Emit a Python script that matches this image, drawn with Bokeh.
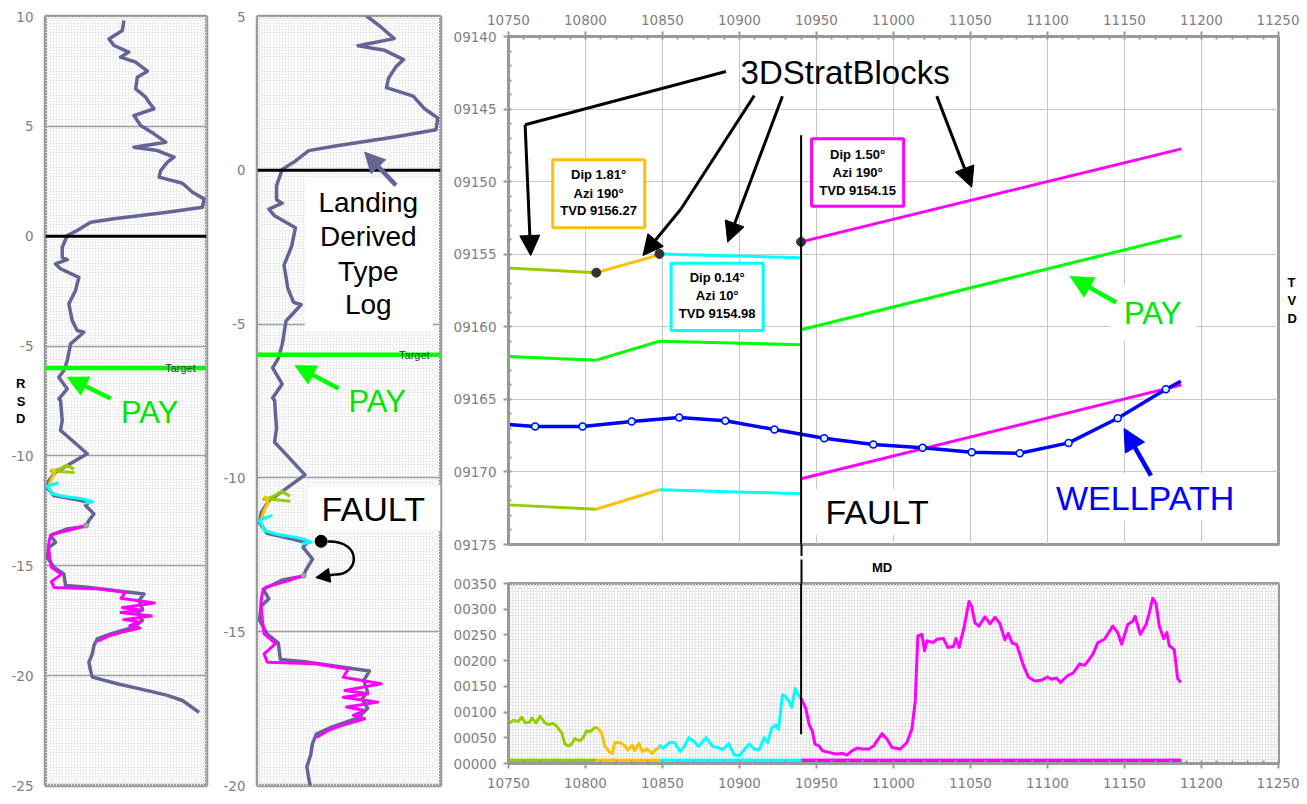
from bokeh.plotting import figure
from bokeh.models import (Range1d, SingleIntervalTicker, FixedTicker, PrintfTickFormatter, Label,
                          Arrow, NormalHead, BoxAnnotation, Span, LinearAxis)
from bokeh.layouts import row, column
from bokeh.embed import file_html
from bokeh.resources import INLINE

# ---------------- DATA ----------------
# Landing derived type log: relative stratigraphic depth (RSD) vs log value
type_rsd = [9.82, 9.36, 8.98, 8.68, 8.38, 8.15, 7.92, 7.51, 7.24, 6.71,
            6.33, 6.10, 5.80, 5.49, 5.04, 4.66, 4.28, 4.05, 3.90, 3.60,
            3.37, 2.99, 2.69, 2.41, 2.00, 1.70, 1.32, 1.09, 0.79, 0.64,
            0.26, 0.03, -0.50, -0.96, -1.07, -1.26, -1.48, -1.87, -2.47, -3.08,
            -3.84, -4.29, -4.37, -4.90, -5.66, -6.11, -6.42, -6.95, -7.40, -7.48,
            -8.39, -8.84, -9.30, -9.90, -10.44, -10.74, -11.12, -11.45, -11.80, -12.00,
            -12.11, -12.26, -12.64, -12.94, -13.20, -13.32, -13.62, -13.93, -14.16, -14.61,
            -15.07, -15.37, -15.90, -15.98, -16.28, -16.58, -16.96, -17.19, -17.49, -17.80,
            -18.10, -18.33, -18.63, -19.01, -19.39, -19.77, -20.07, -20.37, -20.68, -20.90,
            -21.13, -21.67]
type_val = [170.6, 167, 138, 149, 181, 163, 196, 221.5, 199.7, 196,
            217.8, 225, 235.9, 192.3, 206.9, 235.9, 261.4, 192.3, 243.3, 279.4,
            265, 250.5, 246.8, 297.7, 319.5, 344.8, 341.3, 265, 148.8, 98,
            69, 47.3, 36.4, 36.4, 47.3, 21.8, 32.7, 72.5, 65.3, 50.7,
            58.1, 69, 83.4, 54.5, 47.3, 39.9, 29, 47.3, 29, 32.7,
            36.4, 32.7, 58.1, 90.8, 47.3, 21.8, 7.3, 3.6, 18.2, 69,
            94.4, 87.1, 105.3, 94.4, 87.1, 47.3, 10.9, 21.8, 7.3, 3.6,
            18.2, 39.9, 43.6, 90.8, 214.1, 203.2, 210.6, 199.7, 210.6, 192.3,
            141.6, 112.6, 105.3, 101.7, 94.4, 98, 101.7, 156.2, 221.5, 265,
            297.7, 333.9]

# Well log projected onto RSD, one piece per strat block
lg_yg_rsd = [-10.76, -10.72, -10.68, -10.70, -10.62, -10.50, -10.43, -10.52, -10.60]
lg_yg_val = [63, 40, 20, 12, 28, 40, 46, 55, 62]
lg_or_rsd = [-10.60, -10.70, -10.84, -11.06, -11.28, -11.33]
lg_or_val = [12, 20, 18.9, 12.6, 8.2, 18.9]
lg_cy_rsd = [-11.22, -11.30, -11.38, -11.55, -11.71, -11.85, -11.93, -12.00, -12.09, -12.14]
lg_cy_val = [28.4, 15, 3.2, 9.5, 12.6, 41, 72.5, 90, 102.8, 85.1]
lg_mg_rsd = [-13.17, -13.34, -13.55, -13.72, -14.09, -14.64, -15.07, -15.39, -15.72, -15.99,
             -16.04, -16.21, -16.48, -16.69, -16.91, -17.02, -17.13, -17.29, -17.45, -17.56,
             -17.72, -17.83, -18.05, -18.21, -18.43]
lg_mg_val = [88.3, 59.9, 15.8, 9.5, 6.3, 9.5, 12.6, 34.7, 12.6, 18.9,
             110.4, 173.5, 164, 236.5, 167.1, 211.3, 164, 230.3, 170.3, 204.9,
             183, 204.9, 160.8, 135.6, 113.5]
target_rsd = -6.0
zero_rsd = 0.0

# Strat blocks (MD start/end, horizon TVDs at start/end)
blk_md_start = [10750, 10807, 10848, 10940]
blk_md_end = [10807, 10848, 10940, 11187]
top_start = [9155.95, 9156.27, 9154.98, 9154.15]
top_end = [9156.27, 9155.04, 9155.25, 9147.74]
pay_start = [9162.05, 9162.30, 9161.00, 9160.20]
pay_end = [9162.30, 9161.00, 9161.24, 9153.73]
base_start = [9172.27, 9172.57, 9171.23, 9170.47]
base_end = [9172.57, 9171.23, 9171.50, 9164.00]
blk_dip = ["1.81", "0.14", "1.50"]
blk_azi = ["190", "10", "190"]
blk_tvd = ["9156.27", "9154.98", "9154.15"]
fault_md = 10940

# Wellpath
wp_md = [10750, 10767.3, 10798.1, 10830.0, 10860.8, 10890.8, 10922.7, 10955.0, 10986.9,
         11018.9, 11050.8, 11082.0, 11113.7, 11145.6, 11176.9, 11186.6]
wp_tvd = [9166.73, 9166.87, 9166.87, 9166.53, 9166.25, 9166.48, 9167.08, 9167.68, 9168.11,
          9168.34, 9168.64, 9168.71, 9168.00, 9166.30, 9164.30, 9163.75]

# Well log vs MD, per block
gr_yg_md = [10750.6, 10753.2, 10756.5, 10758.6, 10760.8, 10764.0, 10765.1, 10767.9, 10770.5, 10773.7,
            10775.9, 10779.1, 10781.2, 10784.5, 10786.7, 10788.8, 10791.0, 10793.1, 10796.4, 10798.5,
            10800.7, 10802.8, 10806.1, 10807.6]
gr_yg = [79, 83.5, 82.2, 89.9, 79, 80.9, 88.5, 79, 91.8, 79,
         75.9, 77.8, 72.7, 59.9, 37.7, 34.4, 37.7, 48.4, 44, 50.3,
         63.1, 61.8, 69.4, 69.4]
gr_or_md = [10807.6, 10810.4, 10812.5, 10815.8, 10817.5, 10819.0, 10822.2, 10825.5, 10827.6, 10830.4,
            10831.9, 10834.7, 10836.9, 10839.9, 10843.3, 10845.9, 10848.1]
gr_or = [69.4, 59.9, 34.4, 21.6, 19.7, 40.7, 40.7, 34.4, 26.2, 35.8,
         24.9, 38.8, 22.9, 28.1, 19.7, 28.1, 31.2]
gr_cy_md = [10847.7, 10850.3, 10854.6, 10857.8, 10861.5, 10864.3, 10867.1, 10870.1, 10873.4, 10878.3,
            10882.6, 10885.8, 10889.1, 10893.0, 10896.6, 10899.9, 10904.2, 10906.3, 10909.6, 10912.8,
            10916.0, 10918.2, 10921.0, 10923.6, 10925.3, 10927.9, 10930.0, 10932.2, 10933.9, 10936.1,
            10938.2, 10939.7]
gr_cy = [36.3, 29.3, 40.7, 40.7, 22.9, 34.4, 50.3, 44, 33.1, 50.3,
         33.1, 31.2, 26.8, 38.8, 16.6, 15.3, 31.2, 37.7, 28.1, 26.2,
         50.3, 40.7, 69.4, 74.6, 66.4, 133.3, 130, 120.5, 109, 145.9,
         133.3, 128.1]
gr_mg_md = [10939.7, 10943.0, 10945.2, 10947.3, 10949.0, 10951.6, 10953.8, 10958.1, 10962.4, 10966.7,
            10970.0, 10973.2, 10976.4, 10979.6, 10984.0, 10987.2, 10989.3, 10992.6, 10995.8, 10999.0,
            11004.4, 11008.7, 11011.9, 11014.1, 11015.8, 11018.4, 11020.2, 11021.7, 11026.0, 11028.1,
            11032.5, 11035.2, 11038.9, 11040.6, 11042.6, 11046.0, 11049.0, 11050.8, 11052.9, 11055.5,
            11059.4, 11062.7, 11065.9, 11069.1, 11072.3, 11074.5, 11077.1, 11079.9, 11082.0, 11084.2,
            11087.5, 11091.7, 11096.1, 11100.0, 11102.5, 11105.8, 11108.5, 11113.3, 11116.6, 11120.9,
            11124.1, 11127.3, 11129.5, 11132.7, 11137.0, 11142.4, 11145.6, 11148.2, 11152.1, 11155.4,
            11156.9, 11160.3, 11164.0, 11166.1, 11168.3, 11170.4, 11172.6, 11175.4, 11177.5, 11179.1,
            11182.3, 11184.5, 11186.6]
gr_mg = [128.1, 107.7, 75.9, 63.1, 37.7, 34.4, 24.9, 21.6, 18.5, 19.7,
         16.6, 24.9, 30, 28.1, 28.1, 34.4, 44, 58, 47.2, 31.2,
         28.1, 40.7, 66.4, 120.5, 248, 251.1, 219.3, 238.5, 235.2, 241.6,
         242.9, 225.7, 227.6, 242.9, 225.7, 267.2, 315, 305.4, 273.5, 267.2,
         285, 271.6, 284.4, 272.2, 240.3, 253, 233.9, 232, 212.8, 191.8,
         168.3, 160.6, 162, 168.3, 163.9, 166.4, 157.4, 171.5, 175.9, 193.7,
         190.7, 203.3, 212.8, 235.2, 241.6, 267.2, 254.4, 232, 270.3, 276.7,
         286.3, 251.1, 270.3, 292.6, 321.3, 311.7, 267.2, 242.9, 254.4, 228.9,
         221.3, 165.1, 157.4]

# positions of the stacked axis titles
rsd_title_pos = [-6.7, -7.5, -8.3]
tvd_title_pos = [9156.95, 9158.2, 9159.45]
md_title_pos = 10992.6

# ---------------- STYLE ----------------
AX_GRAY = "#999999"
LBL_GRAY = "#808080"
TICK_FONT = "DejaVu Sans"
TICK_SIZE = "13.5px"
TXT_FONT = "Liberation Sans"
SLATE = "#646496"
BLK_COLORS = ["#99cc00", "#ffc000", "#00ffff", "#ff00ff"]
GREEN = "#00ff00"
PAY_TXT = "#00e600"
BLUE = "#0000ff"
BAR_Y = 4


def mesh(p, color):
    p.add_layout(BoxAnnotation(fill_alpha=0, line_alpha=0, hatch_pattern="+", hatch_color=color,
                               hatch_scale=3, hatch_weight=1, level="image"))


def label(p, x, y, text, size, color="black", bold=False, align="center", font=TXT_FONT):
    p.add_layout(Label(x=x, y=y, text=text, text_font=font, text_font_size=f"{size}px",
                       text_color=color, text_align=align, text_baseline="middle",
                       text_font_style="bold" if bold else "normal"))


def arrow(p, x0, y0, x1, y1, color, width, head):
    p.add_layout(Arrow(x_start=x0, y_start=y0, x_end=x1, y_end=y1, line_color=color,
                       line_width=width,
                       end=NormalHead(size=head, fill_color=color, line_color=color, line_width=1)))


def white_box(p, l, r, t, b, line_color=None):
    p.add_layout(BoxAnnotation(left=l, right=r, top=t, bottom=b, fill_color="white", fill_alpha=1,
                               line_color=line_color if line_color else "white",
                               line_alpha=1 if line_color else 0, line_width=3))


def title_axis(ticks, names, standoff, minor=None, minor_out=0):
    ax = LinearAxis(ticker=FixedTicker(ticks=ticks, minor_ticks=minor or []),
                    major_label_overrides=dict(zip(ticks, names)))
    ax.axis_line_color = None
    ax.major_tick_line_color = None
    ax.major_tick_in = 0
    ax.major_tick_out = 0
    ax.minor_tick_line_color = "black" if minor else None
    ax.minor_tick_line_width = 2
    ax.minor_tick_in = 0
    ax.minor_tick_out = minor_out
    ax.major_label_standoff = standoff
    ax.major_label_text_font = TXT_FONT
    ax.major_label_text_font_style = "bold"
    ax.major_label_text_font_size = "13px"
    ax.major_label_text_color = "black"
    return ax


def style_axis(ax, interval, minor, fmt=None, tick_out=5, standoff=7):
    ax.ticker = SingleIntervalTicker(interval=interval, num_minor_ticks=minor)
    ax.axis_line_color = AX_GRAY
    ax.axis_line_width = 3
    ax.major_tick_line_color = AX_GRAY
    ax.major_tick_line_width = 2
    ax.major_tick_out = tick_out
    ax.major_tick_in = 0
    ax.minor_tick_line_color = AX_GRAY if minor else None
    ax.minor_tick_line_width = 2
    ax.minor_tick_in = 3
    ax.minor_tick_out = 0
    ax.major_label_text_color = LBL_GRAY
    ax.major_label_text_font = TICK_FONT
    ax.major_label_text_font_size = TICK_SIZE
    ax.major_label_standoff = standoff
    if fmt:
        ax.formatter = PrintfTickFormatter(format=fmt)


def log_panel(width, y_lo, y_hi, left, right):
    p = figure(width=width, height=796, x_range=Range1d(0, 350), y_range=Range1d(y_lo, y_hi),
               x_axis_location=None, output_backend="svg", toolbar_location=None,
               min_border_left=left, min_border_right=right, min_border_top=16, min_border_bottom=11)
    p.outline_line_color = AX_GRAY
    p.outline_line_width = 3.5
    for g in p.xgrid:
        g.grid_line_color = None
    yax = p.yaxis[0]
    yax.ticker = SingleIntervalTicker(interval=5, num_minor_ticks=0)
    yax.formatter = PrintfTickFormatter(format="%d")
    yax.axis_line_color = None
    yax.major_tick_line_color = None
    yax.major_tick_out = 0
    yax.major_tick_in = 0
    yax.minor_tick_line_color = None
    yax.minor_tick_out = 0
    yax.minor_tick_in = 0
    yax.major_label_text_color = LBL_GRAY
    yax.major_label_text_font = TICK_FONT
    yax.major_label_text_font_size = TICK_SIZE
    yax.major_label_standoff = 12
    for g in p.ygrid:
        g.ticker = SingleIntervalTicker(interval=5)
        g.grid_line_color = "#a0a0a0"
        g.grid_line_width = 1.5
    mesh(p, "#efefef")
    p.line(type_val, type_rsd, line_color=SLATE, line_width=3.5, line_join="round")
    for xs, ys, c in [(lg_yg_val, lg_yg_rsd, BLK_COLORS[0]), (lg_or_val, lg_or_rsd, BLK_COLORS[1]),
                      (lg_cy_val, lg_cy_rsd, BLK_COLORS[2]), (lg_mg_val, lg_mg_rsd, BLK_COLORS[3])]:
        p.line(xs, ys, line_color=c, line_width=3, line_join="round")
    p.scatter([lg_mg_val[0]], [lg_mg_rsd[0]], size=5, fill_color="#aaaaaa", line_color="#888888")
    p.add_layout(Span(location=zero_rsd, dimension="width", line_color="black", line_width=3))
    p.add_layout(Span(location=target_rsd, dimension="width", line_color=GREEN, line_width=4.5))
    return p


# ---------------- PANEL 1 ----------------
p1 = log_panel(220, -25, 10, 45, 14)
label(p1, 326.7, target_rsd, "Target", 11, color="#333333", align="right")
label(p1, 226.5, -8.02, "PAY", 31, color=PAY_TXT)
arrow(p1, 141.6, -7.39, 47.3, -6.42, GREEN, 4.5, 20)
p1.add_layout(title_axis(rsd_title_pos, list("RSD"), -17), "left")

# ---------------- PANEL 2 ----------------
p2 = log_panel(230, -20, 5, 35, 10)
label(p2, 329.2, target_rsd, "Target", 11, color="#333333", align="right")
label(p2, 228.9, -7.52, "PAY", 31, color=PAY_TXT)
arrow(p2, 155.1, -7.09, 71.9, -6.35, GREEN, 4.5, 20)
white_box(p2, 90.8, 334.9, -0.27, -5.21)
for txt, yy in zip(["Landing", "Derived", "Type", "Log"], [-1.05, -2.15, -3.29, -4.36]):
    label(p2, 211.9, yy, txt, 28)
arrow(p2, 264.9, -0.49, 204.9, 0.59, SLATE, 4.5, 20)
white_box(p2, 94.6, 350, -10.25, -11.71)
label(p2, 221.4, -11.0, "FAULT", 34)
p2.scatter([121.7], [-12.06], size=12, color="black")
p2.bezier(x0=[134.3], y0=[-12.07], x1=[147.6], y1=[-13.14], cx0=[202.4], cy0=[-12.04],
          cx1=[194.9], cy1=[-13.17], line_color="black", line_width=2.5)
arrow(p2, 147.6, -13.14, 111.6, -13.24, "black", 2.5, 14)

# ---------------- PANEL 3 (TVD vs MD) ----------------
p3 = figure(width=849, height=556, x_range=Range1d(10750, 11250), y_range=Range1d(9175, 9140),
            x_axis_location="above", output_backend="svg", toolbar_location=None,
            min_border_left=55, min_border_right=21, min_border_top=36, min_border_bottom=12)
p3.outline_line_color = AX_GRAY
p3.outline_line_width = 3
style_axis(p3.xaxis[0], 50, 5)
style_axis(p3.yaxis[0], 5, 5, fmt="%05d")
for g in p3.xgrid:
    g.ticker = SingleIntervalTicker(interval=50)
    g.grid_line_color = "#c8c8c8"
for g in p3.ygrid:
    g.ticker = SingleIntervalTicker(interval=5)
    g.grid_line_color = "#c8c8c8"

p3.segment(x0=blk_md_start, y0=top_start, x1=blk_md_end, y1=top_end, line_color=BLK_COLORS, line_width=3)
p3.segment(x0=blk_md_start, y0=pay_start, x1=blk_md_end, y1=pay_end, line_color=GREEN, line_width=3)
p3.segment(x0=blk_md_start, y0=base_start, x1=blk_md_end, y1=base_end, line_color=BLK_COLORS, line_width=3)
p3.scatter(blk_md_start[1:], top_start[1:], size=9, color="#333333")
p3.line(wp_md, wp_tvd, line_color=BLUE, line_width=3.5, line_join="round")
p3.scatter(wp_md[1:-1], wp_tvd[1:-1], size=7, fill_color="#c8ffff", line_color=BLUE, line_width=1.5)

p3.add_layout(Arrow(end=None, x_start=fault_md, y_start=9146.8, x_end=fault_md, y_end=9180,
                    line_color="black", line_width=2))
# fault line continued through the gap below the frame
p3.add_layout(title_axis([], [], 0, minor=[fault_md], minor_out=12), "below")
# TVD title on the right
p3.add_layout(title_axis(tvd_title_pos, list("TVD"), 9), "right")

# info boxes
info_boxes = [(10778.7, 10838.5, 9148.5, 9153.18, 10808.5, [9149.53, 9150.80, 9151.99]),
              (10855.6, 10915.4, 9155.62, 9160.26, 10885.5, [9156.63, 9157.85, 9159.11]),
              (10946.8, 11006.6, 9147.05, 9151.69, 10976.7, [9148.13, 9149.37, 9150.61])]
for k, (l, r, t, b, cx, ys) in enumerate(info_boxes):
    white_box(p3, l, r, t, b, line_color=BLK_COLORS[k + 1])
    texts = [f"Dip {blk_dip[k]}°", f"Azi {blk_azi[k]}°", f"TVD {blk_tvd[k]}"]
    for txt, yy in zip(texts, ys):
        label(p3, cx, yy, txt, 13, bold=True)

# 3DStratBlocks annotation
label(p3, 10968.6, 9142.48, "3DStratBlocks", 33)
p3.line([10891.2, 10760.8], [9142.41, 9146.08], line_color="black", line_width=3, line_join="round")
arrow(p3, 10760.8, 9146.08, 10764.4, 9155.09, "black", 3, 20)
p3.line([10909.6, 10862.1], [9144.07, 9151.87], line_color="black", line_width=3)
arrow(p3, 10862.1, 9151.87, 10837.3, 9155.09, "black", 3, 20)
arrow(p3, 10927.9, 9144.11, 10892.3, 9154.17, "black", 3, 20)
arrow(p3, 11028.1, 9144.11, 11050.8, 9150.38, "black", 3, 20)

white_box(p3, 11140.7, 11196.3, 9157.16, 9161.01)
label(p3, 11168.3, 9159.08, "PAY", 31, color=PAY_TXT)
arrow(p3, 11144.6, 9158.33, 11114.8, 9156.54, GREEN, 4.5, 22)

white_box(p3, 11101.2, 11225.4, 9170.11, 9173.35)
label(p3, 11163.4, 9171.8, "WELLPATH", 34, color=BLUE)
arrow(p3, 11167.2, 9170.25, 11149.7, 9167.0, BLUE, 4.5, 22)

white_box(p3, 10944.0, 11034.6, 9171.21, 9174.31)
label(p3, 10989.3, 9172.73, "FAULT", 34)

# ---------------- PANEL 4 (log vs MD) ----------------
p4 = figure(width=849, height=240, x_range=p3.x_range, y_range=Range1d(0, 350),
            output_backend="svg", toolbar_location=None,
            min_border_left=55, min_border_right=21, min_border_top=24, min_border_bottom=33)
p4.outline_line_color = AX_GRAY
p4.outline_line_width = 3
style_axis(p4.xaxis[0], 50, 5, standoff=9)
style_axis(p4.yaxis[0], 50, 0, fmt="%05d")
for g in list(p4.xgrid) + list(p4.ygrid):
    g.grid_line_color = None
mesh(p4, "#e6e6e6")

for xs, ys, c in [(gr_yg_md, gr_yg, BLK_COLORS[0]), (gr_or_md, gr_or, BLK_COLORS[1]),
                  (gr_cy_md, gr_cy, BLK_COLORS[2]), (gr_mg_md, gr_mg, BLK_COLORS[3])]:
    p4.line(xs, ys, line_color=c, line_width=3, line_join="round")
p4.segment(x0=blk_md_start, y0=[BAR_Y] * 4, x1=blk_md_end, y1=[BAR_Y] * 4,
           line_color=BLK_COLORS, line_width=6)
p4.add_layout(Arrow(end=None, x_start=fault_md, y_start=420, x_end=fault_md, y_end=57,
                    line_color="black", line_width=2))
# MD title above, with the fault line continued through the gap
p4.add_layout(title_axis([md_title_pos], ["MD"], -15, minor=[fault_md], minor_out=24), "above")

layout = row(p1, p2, column(p3, p4))
open("out.html", "w").write(file_html(layout, INLINE))
